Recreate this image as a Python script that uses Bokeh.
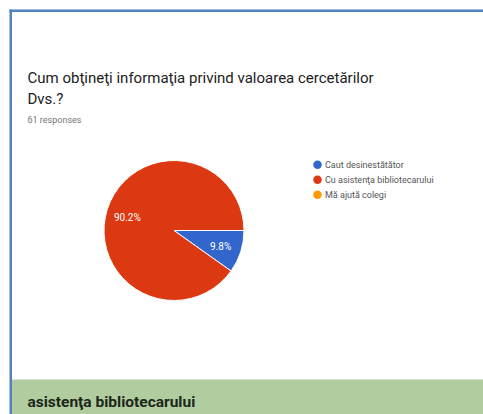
import math
from bokeh.plotting import figure
from bokeh.models import Range1d, ColumnDataSource
from bokeh.core.properties import value
from bokeh.embed import file_html
from bokeh.resources import INLINE

# ---- data ----
title_lines = ["Cum obţineţi informaţia privind valoarea cercetărilor", "Dvs.?"]
responses_label = "61 responses"
categories = ["Caut desinestătător", "Cu asistenţa bibliotecarului", "Mă ajută colegi"]
counts = [6, 55, 0]
footer_text = "asistenţa bibliotecarului"

colors = ["#3366cc", "#dc3912", "#ff9900"]

W, H = 483, 414
FONT = value("Roboto")


def px(x):
    return x


def py(y):
    return H - y


p = figure(width=W, height=H, x_range=Range1d(0, W), y_range=Range1d(0, H),
           output_backend="svg", toolbar_location=None, min_border=0)
p.axis.visible = False
p.grid.visible = False
p.outline_line_color = None
p.outline_line_alpha = 0
p.outline_line_width = 0
p.background_fill_color = "#ffffff"
p.border_fill_color = "#ffffff"

# white page background
p.quad(left=[-2], right=[W + 2], top=[H + 2], bottom=[-2],
       fill_color="#ffffff", line_color=None)

# frame: blue border top and left
p.quad(left=[px(9)], right=[W + 2], top=[py(9)], bottom=[py(11.5)],
       fill_color="#4f81c4", line_color=None)
p.quad(left=[px(9)], right=[px(11.5)], top=[py(9)], bottom=[-2],
       fill_color="#4f81c4", line_color=None)

# green footer band
p.quad(left=[px(11.5)], right=[W + 2], top=[py(379)], bottom=[-2],
       fill_color="#b1cc9f", line_color=None)
p.text(x=[px(27)], y=[py(401)], text=[footer_text], text_font=FONT,
       text_font_size="15.5px", text_font_style="bold", text_color="#1c261a",
       text_baseline="middle", text_align="left")

# title
p.text(x=[px(27), px(27)], y=[py(77.5), py(98.5)], text=title_lines, text_font=FONT,
       text_font_size="15px", text_color="#212121",
       text_baseline="middle", text_align="left")
p.text(x=[px(27)], y=[py(119)], text=[responses_label], text_font=FONT,
       text_font_size="9px", text_color="#757575",
       text_baseline="middle", text_align="left")

# pie
cx, cy, R = px(173.5), py(230), 70
total = sum(counts)
starts, ends, wc, labx, laby, labt = [], [], [], [], [], []
cum = 0
for c, col in zip(counts, colors):
    if c == 0:
        continue
    a0 = -2 * math.pi * cum / total
    cum += c
    a1 = -2 * math.pi * cum / total
    starts.append(a0)
    ends.append(a1)
    wc.append(col)
    mid = (a0 + a1) / 2
    labx.append(cx + 0.7 * R * math.cos(mid))
    laby.append(cy + 0.7 * R * math.sin(mid) - 1.5)
    labt.append(f"{100 * c / total:.1f}%")

src = ColumnDataSource(dict(start=starts, end=ends, color=wc))
p.wedge(x=cx, y=cy, radius=R, radius_units="screen", start_angle="start",
        end_angle="end", direction="clock", fill_color="color",
        line_color="#ffffff", line_width=1, source=src)
p.text(x=labx, y=laby, text=labt, text_font=FONT, text_font_size="10px",
       text_color="#ffffff", text_align="center", text_baseline="middle")

# legend
lx, ly0, dy = px(317), py(164.3), 15
ly = [ly0 - i * dy for i in range(len(categories))]
p.scatter(x=[lx] * len(categories), y=ly, size=8.5, marker="circle",
          fill_color=colors, line_color=None)
p.text(x=[lx + 7.5] * len(categories), y=ly, text=categories, text_font=FONT,
       text_font_size="9px", text_color="#555555", text_align="left",
       text_baseline="middle")

open("out.html", "w").write(file_html(p, INLINE))
